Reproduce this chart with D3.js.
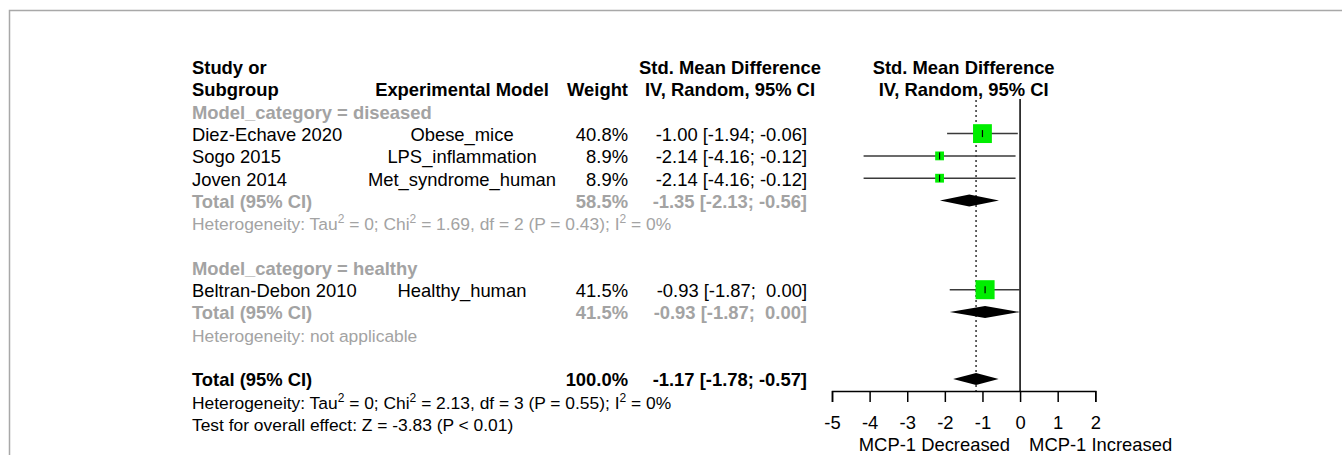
<!DOCTYPE html>
<html>
<head>
<meta charset="utf-8">
<script src="https://cdn.jsdelivr.net/npm/d3@7"></script>
<style>
  html, body { margin: 0; padding: 0; background: #fff; }
  svg { display: block; font-family: "Liberation Sans", Arial, sans-serif; }
  text { white-space: pre; }
</style>
</head>
<body>
<div id="chart"></div>
<script>
// study level data
const studies = ["Diez-Echave 2020", "Sogo 2015", "Joven 2014", "Beltran-Debon 2010"];
const models = ["Obese_mice", "LPS_inflammation", "Met_syndrome_human", "Healthy_human"];
const groups = ["diseased", "diseased", "diseased", "healthy"];
const weights = [40.8, 8.9, 8.9, 41.5];
const smd = [-1.00, -2.14, -2.14, -0.93];
const lower = [-1.94, -4.16, -4.16, -1.87];
const upper = [-0.06, -0.12, -0.12, 0.00];

// subgroup totals
const subgroups = ["diseased", "healthy"];
const subWeights = [58.5, 41.5];
const subSmd = [-1.35, -0.93];
const subLower = [-2.13, -1.87];
const subUpper = [-0.56, 0.00];
const subHet = [
    [["Heterogeneity: Tau", ""], ["2", "sup"], [" = 0; Chi", ""], ["2", "sup"], [" = 1.69, df = 2 (P = 0.43); I", ""], ["2", "sup"], [" = 0%", ""]],
    [["Heterogeneity: not applicable", ""]]
];

// overall
const overallWeight = 100.0;
const overallSmd = -1.17;
const overallLower = -1.78;
const overallUpper = -0.57;
const overallHet = [["Heterogeneity: Tau", ""], ["2", "sup"], [" = 0; Chi", ""], ["2", "sup"], [" = 2.13, df = 3 (P = 0.55); I", ""], ["2", "sup"], [" = 0%", ""]];
const overallTest = "Test for overall effect: Z = -3.83 (P < 0.01)";

const ticks = [-5, -4, -3, -2, -1, 0, 1, 2];
const labelLeft = "MCP-1 Decreased";
const labelRight = "MCP-1 Increased";

const width = 1342, height = 455;
const fs = 18.4, fsHet = 17.4;
const grey = "#a3a3a3";

const svg = d3.select("#chart").append("svg")
    .attr("width", width)
    .attr("height", height);

// frame
svg.append("path")
    .attr("d", `M9.5,${height} V10.5 H${width}`)
    .attr("fill", "none")
    .attr("stroke", "#a8a8a8")
    .attr("stroke-width", 1.5);

const x = d3.scaleLinear().domain([-5, 2]).range([832, 1095.3]);
const rowY = d3.scaleLinear().domain([0, 1]).range([74, 96.3]); // baseline per row index
const mid = i => rowY(i) - 7.3;

const colStudy = 192, colModel = 462, colWeight = 628, colSmd = 807;

const num = v => (v < 0 ? "" : " ") + v.toFixed(2);
const ciText = (e, l, u) => `${num(e)} [${num(l)}; ${num(u)}]`;

function txt(str, xx, row, opts = {}) {
    return svg.append("text")
        .attr("x", xx)
        .attr("y", rowY(row))
        .attr("text-anchor", opts.anchor || "start")
        .attr("font-size", opts.size || fs)
        .attr("font-weight", opts.bold ? "bold" : "normal")
        .attr("fill", opts.color || "#000")
        .text(str);
}

function richTxt(parts, xx, row, color) {
    const t = svg.append("text")
        .attr("x", xx)
        .attr("y", rowY(row))
        .attr("font-size", fsHet)
        .attr("fill", color);
    let up = false;
    parts.forEach(([s, kind]) => {
        const sp = t.append("tspan").text(s);
        if (kind === "sup" && !up) { sp.attr("dy", -7).attr("font-size", 12); up = true; }
        else if (kind !== "sup" && up) { sp.attr("dy", 7); up = false; }
    });
}

// headers
txt("Study or", colStudy, 0, {bold: true});
txt("Subgroup", colStudy, 1, {bold: true});
txt("Experimental Model", colModel, 1, {bold: true, anchor: "middle"});
txt("Weight", colWeight, 1, {bold: true, anchor: "end"});
txt("Std. Mean Difference", 730, 0, {bold: true, anchor: "middle"});
txt("IV, Random, 95% CI", 730, 1, {bold: true, anchor: "middle"});
txt("Std. Mean Difference", x(-1.5), 0, {bold: true, anchor: "middle"});
txt("IV, Random, 95% CI", x(-1.5), 1, {bold: true, anchor: "middle"});

// build row layout
const studyRows = [];
const subRows = [];
let r = 2;
subgroups.forEach((g, gi) => {
    txt(`Model_category = ${g}`, colStudy, r, {bold: true, color: grey});
    r++;
    studies.forEach((s, i) => {
        if (groups[i] !== g) return;
        studyRows.push({i, row: r});
        r++;
    });
    subRows.push({gi, row: r});
    richTxt(subHet[gi], colStudy, r + 1, grey);
    r += 3;
});
const overallRow = r;

// study text
studyRows.forEach(({i, row}) => {
    txt(studies[i], colStudy, row);
    txt(models[i], colModel, row, {anchor: "middle"});
    txt(weights[i].toFixed(1) + "%", colWeight, row, {anchor: "end"});
    txt(ciText(smd[i], lower[i], upper[i]), colSmd, row, {anchor: "end"});
});

// subgroup text
subRows.forEach(({gi, row}) => {
    txt("Total (95% CI)", colStudy, row, {bold: true, color: grey});
    txt(subWeights[gi].toFixed(1) + "%", colWeight, row, {bold: true, color: grey, anchor: "end"});
    txt(ciText(subSmd[gi], subLower[gi], subUpper[gi]), colSmd, row, {bold: true, color: grey, anchor: "end"});
});

// overall text
txt("Total (95% CI)", colStudy, overallRow, {bold: true});
txt(overallWeight.toFixed(1) + "%", colWeight, overallRow, {bold: true, anchor: "end"});
txt(ciText(overallSmd, overallLower, overallUpper), colSmd, overallRow, {bold: true, anchor: "end"});
richTxt(overallHet, colStudy, overallRow + 1, "#000");
txt(overallTest, colStudy, overallRow + 2, {size: fsHet});

// reference lines
const axisY = 391;
svg.append("line")
    .attr("x1", x(0)).attr("x2", x(0))
    .attr("y1", 99).attr("y2", axisY)
    .attr("stroke", "#000").attr("stroke-width", 1.5);
svg.append("line")
    .attr("x1", x(overallSmd)).attr("x2", x(overallSmd))
    .attr("y1", 100).attr("y2", axisY)
    .attr("stroke", "#333").attr("stroke-width", 1.5)
    .attr("stroke-dasharray", "2,3");

// study markers
const sq = w => 2.95 * Math.sqrt(w);
const marks = svg.append("g");
studyRows.forEach(({i, row}) => {
    const cy = mid(row);
    marks.append("line")
        .attr("x1", x(lower[i])).attr("x2", x(upper[i]))
        .attr("y1", cy).attr("y2", cy)
        .attr("stroke", "#3a3a3a").attr("stroke-width", 1.5);
    const s = sq(weights[i]);
    marks.append("rect")
        .attr("x", x(smd[i]) - s / 2).attr("y", cy - s / 2)
        .attr("width", s).attr("height", s)
        .attr("fill", "#00ee00");
    marks.append("line")
        .attr("x1", x(smd[i])).attr("x2", x(smd[i]))
        .attr("y1", cy - 3.5).attr("y2", cy + 3.5)
        .attr("stroke", "#000").attr("stroke-width", 1.2);
});

// diamonds
function diamond(e, l, u, cy) {
    marks.append("polygon")
        .attr("points", [[x(l), cy], [x(e), cy - 6], [x(u), cy], [x(e), cy + 6]].map(p => p.join(",")).join(" "))
        .attr("fill", "#000");
}
subRows.forEach(({gi, row}) => diamond(subSmd[gi], subLower[gi], subUpper[gi], mid(row)));
diamond(overallSmd, overallLower, overallUpper, mid(overallRow));

// axis
const axis = svg.append("g")
    .attr("transform", `translate(0,${axisY})`)
    .call(d3.axisBottom(x).tickValues(ticks).tickSize(11).tickPadding(14).tickFormat(d3.format("d")));
axis.selectAll("path, line").attr("stroke", "#000").attr("stroke-width", 1.5);
axis.selectAll("text")
    .attr("font-size", fs)
    .attr("font-family", "'Liberation Sans', Arial, sans-serif")
    .attr("fill", "#000")
    .text(d => d < 0 ? "-" + Math.abs(d) : d);

svg.append("text")
    .attr("x", x(0) - 10).attr("y", 451)
    .attr("text-anchor", "end")
    .attr("font-size", fs)
    .text(labelLeft);
svg.append("text")
    .attr("x", x(0) + 9).attr("y", 451)
    .attr("font-size", fs)
    .text(labelRight);
</script>
</body>
</html>
